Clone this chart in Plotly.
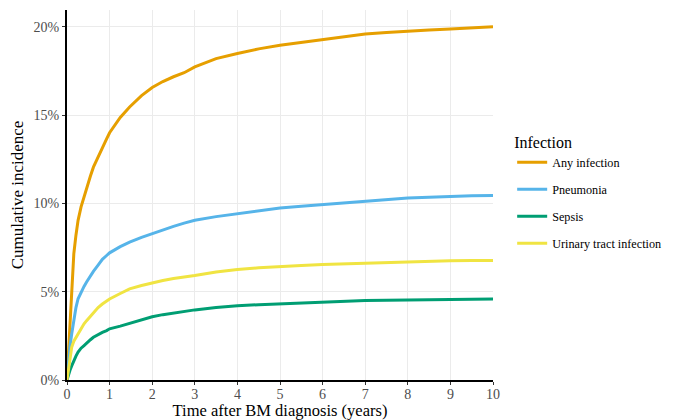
import plotly.graph_objects as go

# Time after BM diagnosis (years)
years = [0, 0.03, 0.07, 0.11, 0.16, 0.21, 0.26, 0.33, 0.4, 0.46, 0.55, 0.62, 0.73, 0.83, 0.93, 1.0, 1.25, 1.47, 1.75, 2.0, 2.25, 2.5,
         2.75, 3.0, 3.5, 4.0, 4.5, 5.0, 5.5, 6.0, 6.5, 7.0, 7.5, 8.0, 8.5, 9.0, 9.5, 10.0]

# Cumulative incidence (fraction)
any_infection = [0, 0.015, 0.034, 0.055, 0.0715, 0.082, 0.0904, 0.098, 0.104, 0.1093, 0.1155, 0.1205, 0.1265, 0.1320, 0.1365, 0.1400,
                 0.1487, 0.1546, 0.1610, 0.1656, 0.1690, 0.1717, 0.1740, 0.1773, 0.1820, 0.1849, 0.1875, 0.1896, 0.1912, 0.1930,
                 0.1946, 0.1959, 0.1968, 0.1976, 0.1982, 0.1987, 0.1993, 0.2000]
pneumonia = [0, 0.0100, 0.0190, 0.0260, 0.0345, 0.0410, 0.0460, 0.0500, 0.0530, 0.0555, 0.0590, 0.0615, 0.0650, 0.0683, 0.0705, 0.0720,
             0.0755, 0.0781, 0.0808, 0.0830, 0.0851, 0.0870, 0.0888, 0.0904, 0.0925, 0.0942, 0.0958, 0.0974, 0.0984, 0.0994,
             0.1003, 0.1011, 0.1020, 0.1030, 0.1035, 0.1040, 0.1043, 0.1045]
sepsis = [0, 0.0030, 0.0055, 0.0080, 0.0110, 0.0135, 0.0158, 0.0180, 0.0195, 0.0210, 0.0228, 0.0242, 0.0258, 0.0270, 0.0280, 0.0290,
          0.0305, 0.0320, 0.0340, 0.0358, 0.0370, 0.0380, 0.0389, 0.0397, 0.0410, 0.0421, 0.0426, 0.0431, 0.0437, 0.0444,
          0.0448, 0.0450, 0.0452, 0.0454, 0.0455, 0.0455, 0.0457, 0.0459]
uti = [0, 0.0053, 0.0135, 0.0185, 0.0220, 0.0242, 0.0265, 0.0295, 0.0318, 0.0336, 0.0360, 0.0380, 0.0410, 0.0430, 0.0445, 0.0459,
       0.0490, 0.0516, 0.0535, 0.0550, 0.0563, 0.0575, 0.0583, 0.0592, 0.0612, 0.0626, 0.0635, 0.0643, 0.0649, 0.0654,
       0.0658, 0.0662, 0.0667, 0.0671, 0.0673, 0.0675, 0.0676, 0.0677]

series_names = ["Any infection", "Pneumonia", "Sepsis", "Urinary tract infection"]
series_values = [any_infection, pneumonia, sepsis, uti]
colors = ["#E69F00", "#56B4E9", "#009E73", "#F0E442"]

x_ticks = list(range(0, 11))
y_ticks = [0, 0.05, 0.10, 0.15, 0.20]
y_tick_labels = ["0%", "5%", "10%", "15%", "20%"]

FONT = "Liberation Serif"

fig = go.Figure()
for name, vals, col in zip(series_names, series_values, colors):
    fig.add_trace(go.Scatter(x=years, y=vals, mode="lines", name=name, legendgroup=name,
                             line=dict(color=col, width=3)))

# page body has an 8px margin, so the figure is sized to fit the 675x420 window
fig.update_layout(
    width=667, height=412,
    margin=dict(l=59, r=182, t=2, b=40, autoexpand=False),
    plot_bgcolor="white", paper_bgcolor="white",
    font=dict(family=FONT, color="#4d4d4d", size=14),
    legend=dict(
        title=dict(text="Infection", font=dict(family=FONT, size=16, color="black")),
        font=dict(family=FONT, size=12.2, color="black"),
        x=1.045, xanchor="left", y=0.507, yanchor="middle",
        tracegroupgap=8, itemwidth=30,
    ),
    xaxis=dict(
        range=[0, 10], tickvals=x_ticks, ticktext=[str(v) for v in x_ticks],
        showgrid=True, gridcolor="#ebebeb", gridwidth=1,
        showline=True, linecolor="black", linewidth=2,
        ticks="outside", ticklen=3, tickcolor="#333333",
        ticklabelstandoff=-3,
        zeroline=False, automargin=False,
        title=dict(text="Time after BM diagnosis (years)", font=dict(family=FONT, size=16.5, color="black"), standoff=2),
        tickfont=dict(family=FONT, size=14, color="#4d4d4d"),
    ),
    yaxis=dict(
        range=[0, 0.2095], tickvals=y_ticks, ticktext=y_tick_labels,
        showgrid=True, gridcolor="#ebebeb", gridwidth=1,
        showline=True, linecolor="black", linewidth=2,
        ticks="outside", ticklen=3, tickcolor="#333333",
        zeroline=False, automargin=False,
        title=dict(text="Cumulative incidence", font=dict(family=FONT, size=17, color="black"), standoff=6),
        tickfont=dict(family=FONT, size=14, color="#4d4d4d"),
    ),
)

fig.write_html("out.html")
